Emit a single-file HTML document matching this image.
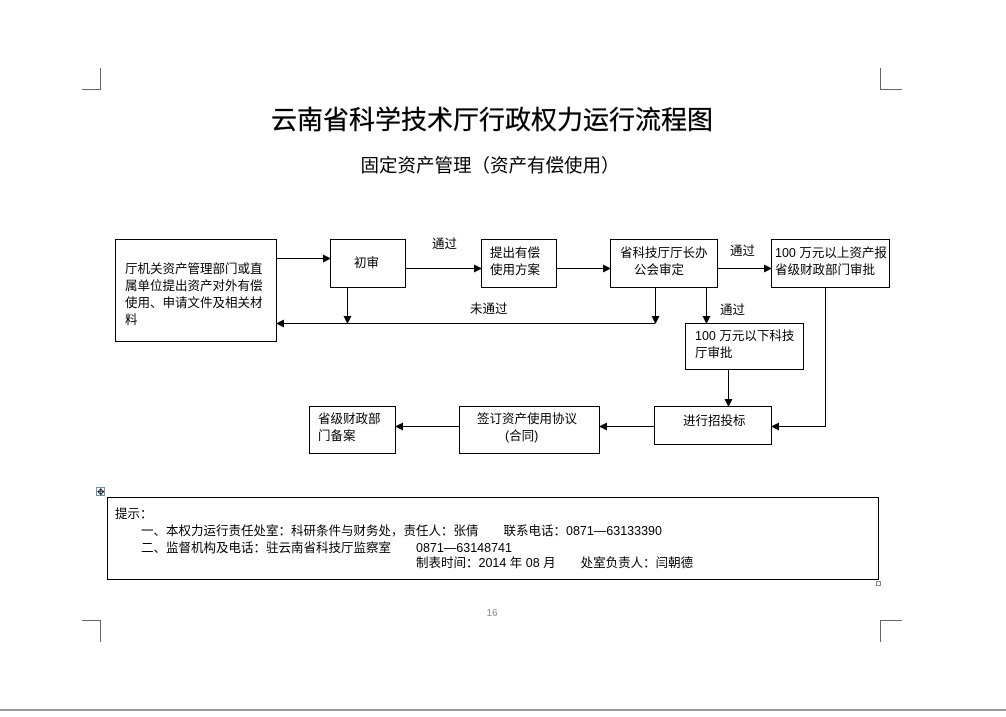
<!DOCTYPE html>
<html><head><meta charset="utf-8"><style>
html,body{margin:0;padding:0;background:#fff;}
svg text{font-family:"Liberation Sans","Noto Sans CJK SC",sans-serif;fill:#000;}
</style></head><body>
<svg width="1006" height="712" xmlns="http://www.w3.org/2000/svg">
<defs><marker id="a" markerWidth="8" markerHeight="8" refX="7" refY="4" orient="auto" markerUnits="userSpaceOnUse"><path d="M0,0 L8,4 L0,8 z" fill="#000"/></marker></defs>
<g stroke="#666" stroke-width="1" fill="none">
<path d="M100.5,68 V89.5 H82"/><path d="M880.5,68 V89.5 H902"/>
<path d="M82,620.5 H100.5 V642"/><path d="M902,620.5 H880.5 V642"/>
</g>
<line x1="0" y1="710" x2="1006" y2="710" stroke="#999" stroke-width="2"/>
<text x="492" y="129" font-size="26" text-anchor="middle" style="stroke:#000;stroke-width:0.3">云南省科学技术厅行政权力运行流程图</text>
<text x="490" y="172" font-size="18.5" text-anchor="middle">固定资产管理（资产有偿使用）</text>
<g stroke="#000" stroke-width="1" fill="#fff">
<rect x="115.5" y="239.5" width="161" height="102"/>
<rect x="330.5" y="239.5" width="75" height="48"/>
<rect x="481.5" y="239.5" width="75" height="48"/>
<rect x="610.5" y="239.5" width="107" height="48"/>
<rect x="771.5" y="239.5" width="118" height="48"/>
<rect x="685.5" y="323.5" width="118" height="46"/>
<rect x="654.5" y="406.5" width="117" height="38"/>
<rect x="459.5" y="406.5" width="140" height="47"/>
<rect x="309.5" y="406.5" width="86" height="47"/>
<rect x="107.5" y="497.5" width="771" height="82"/>
</g>
<g stroke="#000" stroke-width="1" fill="none" marker-end="url(#a)">
<line x1="276" y1="258.5" x2="330" y2="258.5"/>
<line x1="405" y1="268.5" x2="481" y2="268.5"/>
<line x1="556" y1="268.5" x2="610" y2="268.5"/>
<line x1="717" y1="268.5" x2="771" y2="268.5"/>
<line x1="347.5" y1="287" x2="347.5" y2="323"/>
<line x1="655.5" y1="287" x2="655.5" y2="323"/>
<line x1="655" y1="323.5" x2="277" y2="323.5"/>
<line x1="706.5" y1="287" x2="706.5" y2="323"/>
<line x1="728.5" y1="369" x2="728.5" y2="406"/>
<polyline points="825.5,287 825.5,426.5 772,426.5"/>
<line x1="654" y1="426.5" x2="600" y2="426.5"/>
<line x1="459" y1="426.5" x2="396" y2="426.5"/>
</g>
<g font-size="12.5">
<text x="125" y="273">厅机关资产管理部门或直</text>
<text x="125" y="290">属单位提出资产对外有偿</text>
<text x="125" y="307">使用、申请文件及相关材</text>
<text x="125" y="324">料</text>
<text x="354" y="267">初审</text>
<text x="432" y="248">通过</text>
<text x="490" y="257">提出有偿</text>
<text x="490" y="274">使用方案</text>
<text x="620" y="257">省科技厅厅长办</text>
<text x="634" y="274">公会审定</text>
<text x="730" y="255">通过</text>
<text x="775" y="257">100 万元以上资产报</text>
<text x="775" y="274">省级财政部门审批</text>
<text x="470" y="313">未通过</text>
<text x="720" y="314">通过</text>
<text x="695" y="340">100 万元以下科技</text>
<text x="695" y="357">厅审批</text>
<text x="683" y="425">进行招投标</text>
<text x="477" y="423">签订资产使用协议</text>
<text x="505" y="440">(合同)</text>
<text x="318" y="423">省级财政部</text>
<text x="318" y="440">门备案</text>
</g>
<rect x="96.5" y="487.5" width="8" height="8" fill="#fff" stroke="#6a8fc0"/>
<text x="97" y="495" font-size="9" fill="#36c">✥</text>
<g font-size="12.5">
<text x="115" y="518">提示：</text>
<text x="141" y="535">一、本权力运行责任处室：科研条件与财务处，责任人：张倩　　联系电话：0871—63133390</text>
<text x="141" y="552">二、监督机构及电话：驻云南省科技厅监察室　　0871—63148741</text>
<text x="416" y="567">制表时间：2014 年 08 月　　处室负责人：闫朝德</text>
</g>
<rect x="876.5" y="581.5" width="4" height="4" fill="#fff" stroke="#888"/>
<text x="492" y="616" font-size="10" text-anchor="middle" style="fill:#888">16</text>
</svg>
</body></html>
